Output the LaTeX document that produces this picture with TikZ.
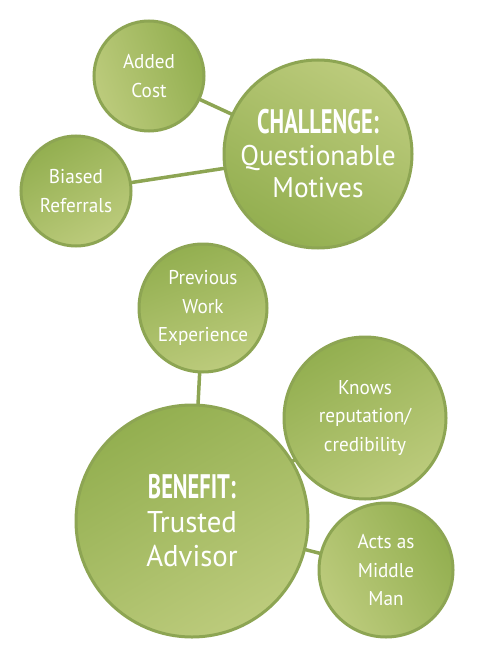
\documentclass[tikz,border=0pt]{standalone}
\usepackage{fontspec}
\setmainfont{PT Sans}[FakeStretch=0.96]
\newfontfamily\titlefont{PT Sans}[FakeStretch=0.66]
\pgfdeclarelayer{background}
\pgfsetlayers{background,main}
\definecolor{gdark}{HTML}{93AF50}
\definecolor{glight}{HTML}{BCCB7C}
\definecolor{gedge}{HTML}{8DA553}
\tikzset{
  bubble/.style={circle, draw=gedge, line width=3pt, inner sep=0pt, text=white, align=center,
    shading=axis, top color=gdark, bottom color=glight},
  small/.style={font=\fontsize{20}{28.5}\selectfont},
  link/.style={draw=gedge, line width=3.5pt},
}
\begin{document}
\begin{tikzpicture}[x=1pt,y=1pt]
\useasboundingbox (0,0) rectangle (477,-658);
\node[bubble, small, minimum size=110pt, shading angle=-70] (cost) at (149,-76) {Added\\Cost};
\node[bubble, minimum size=188pt, shading angle=150, font=\fontsize{28.5}{32}\selectfont] (chal) at (318,-154)
  {{\titlefont\bfseries\fontsize{34}{34}\selectfont CHALLENGE:}\\Questionable\\Motives};
\node[bubble, small, minimum size=110pt, shading angle=30] (bias) at (76,-191) {Biased\\Referrals};
\node[bubble, small, minimum size=128pt, shading angle=20] (prev) at (203,-308) {Previous\\Work\\Experience};
\node[bubble, small, minimum size=162pt, shading angle=30] (know) at (365,-418) {Knows\\reputation/\\credibility};
\node[bubble, minimum size=232pt, shading angle=30, font=\fontsize{30}{34}\selectfont] (ben) at (192,-521)
  {{\titlefont\bfseries\fontsize{34}{34}\selectfont BENEFIT:}\\Trusted\\Advisor};
\node[bubble, small, minimum size=134pt, shading angle=-60] (acts) at (386,-570) {Acts as\\Middle\\Man};
\begin{pgfonlayer}{background}
\draw[link] (cost.center) -- (chal.center);
\draw[link] (bias.center) -- (chal.center);
\draw[link] (prev.center) -- (ben.center);
\draw[link] (know.center) -- (ben.center);
\draw[link] (acts.center) -- (ben.center);
\end{pgfonlayer}
\end{tikzpicture}
\end{document}
